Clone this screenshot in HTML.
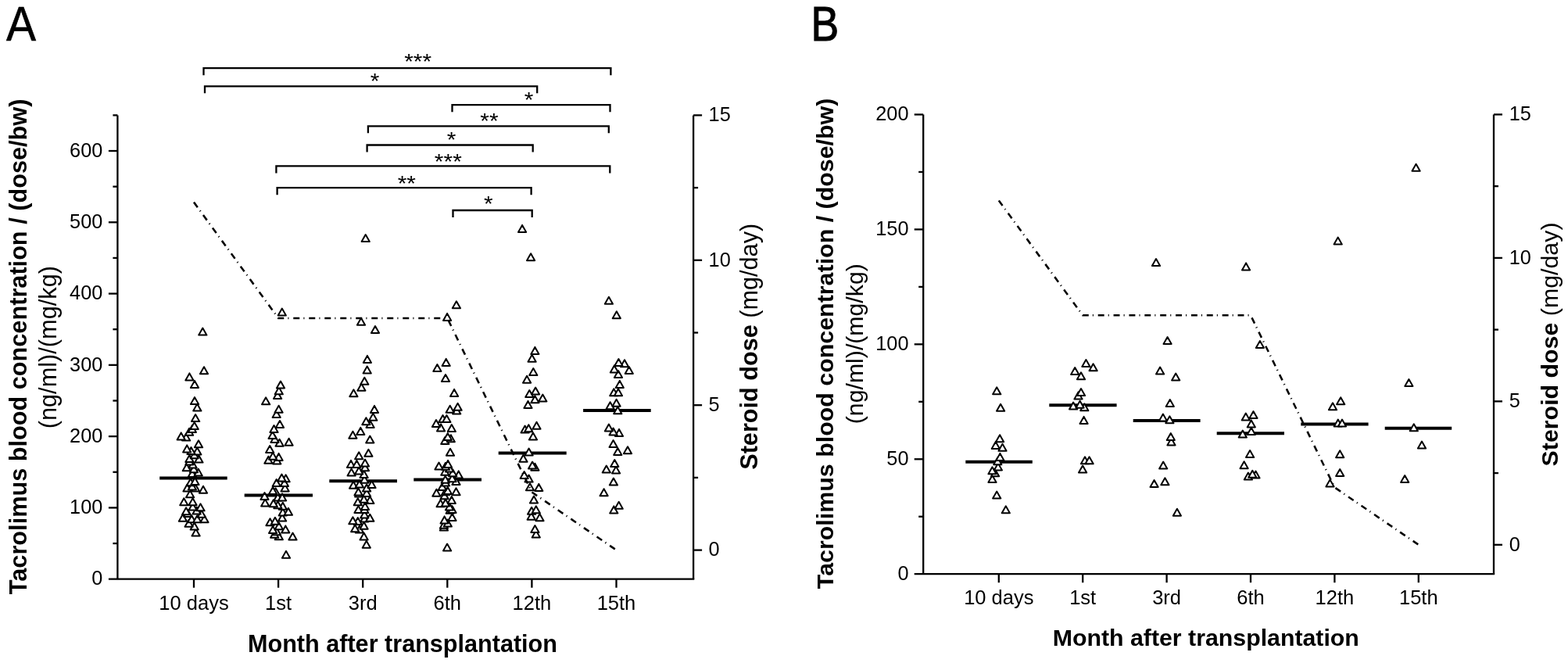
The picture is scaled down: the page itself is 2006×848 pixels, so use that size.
<!DOCTYPE html>
<html><head><meta charset="utf-8"><title>Tacrolimus figure</title>
<style>html,body{margin:0;padding:0;background:#fff;}svg{display:block;}</style>
</head><body>
<svg width="2006" height="848" viewBox="0 0 2006 848" font-family="Liberation Sans, Arial, sans-serif">
<rect width="2006" height="848" fill="#fff"/>
<g stroke="#000" stroke-linecap="butt">
<line x1="150.4" y1="147.4" x2="150.4" y2="740.7" stroke-width="2.3"/>
<line x1="887.1" y1="147.4" x2="887.1" y2="740.7" stroke-width="2.3"/>
<line x1="138.9" y1="740.7" x2="888.25" y2="740.7" stroke-width="2.3"/>
<line x1="138.9" y1="649.42" x2="150.4" y2="649.42" stroke-width="2.3"/>
<line x1="138.9" y1="558.14" x2="150.4" y2="558.14" stroke-width="2.3"/>
<line x1="138.9" y1="466.86" x2="150.4" y2="466.86" stroke-width="2.3"/>
<line x1="138.9" y1="375.58" x2="150.4" y2="375.58" stroke-width="2.3"/>
<line x1="138.9" y1="284.3" x2="150.4" y2="284.3" stroke-width="2.3"/>
<line x1="138.9" y1="193.02" x2="150.4" y2="193.02" stroke-width="2.3"/>
<line x1="144.4" y1="695.06" x2="150.4" y2="695.06" stroke-width="2.3"/>
<line x1="144.4" y1="603.78" x2="150.4" y2="603.78" stroke-width="2.3"/>
<line x1="144.4" y1="512.5" x2="150.4" y2="512.5" stroke-width="2.3"/>
<line x1="144.4" y1="421.22" x2="150.4" y2="421.22" stroke-width="2.3"/>
<line x1="144.4" y1="329.94" x2="150.4" y2="329.94" stroke-width="2.3"/>
<line x1="144.4" y1="238.66" x2="150.4" y2="238.66" stroke-width="2.3"/>
<line x1="144.4" y1="147.38" x2="150.4" y2="147.38" stroke-width="2.3"/>
<line x1="887.1" y1="703.6" x2="898.1" y2="703.6" stroke-width="2.3"/>
<line x1="887.1" y1="518.2" x2="898.1" y2="518.2" stroke-width="2.3"/>
<line x1="887.1" y1="332.8" x2="898.1" y2="332.8" stroke-width="2.3"/>
<line x1="887.1" y1="147.4" x2="898.1" y2="147.4" stroke-width="2.3"/>
<line x1="887.1" y1="610.9" x2="893.1" y2="610.9" stroke-width="2.3"/>
<line x1="887.1" y1="425.5" x2="893.1" y2="425.5" stroke-width="2.3"/>
<line x1="887.1" y1="240.1" x2="893.1" y2="240.1" stroke-width="2.3"/>
<line x1="248" y1="740.7" x2="248" y2="751.7" stroke-width="2.3"/>
<line x1="356.1" y1="740.7" x2="356.1" y2="751.7" stroke-width="2.3"/>
<line x1="464.2" y1="740.7" x2="464.2" y2="751.7" stroke-width="2.3"/>
<line x1="572.3" y1="740.7" x2="572.3" y2="751.7" stroke-width="2.3"/>
<line x1="680.4" y1="740.7" x2="680.4" y2="751.7" stroke-width="2.3"/>
<line x1="788.5" y1="740.7" x2="788.5" y2="751.7" stroke-width="2.3"/>
</g>
<text x="131.3" y="748.4" font-size="25.3" text-anchor="end">0</text>
<text x="131.3" y="657.12" font-size="25.3" text-anchor="end">100</text>
<text x="131.3" y="565.84" font-size="25.3" text-anchor="end">200</text>
<text x="131.3" y="474.56" font-size="25.3" text-anchor="end">300</text>
<text x="131.3" y="383.28" font-size="25.3" text-anchor="end">400</text>
<text x="131.3" y="292" font-size="25.3" text-anchor="end">500</text>
<text x="131.3" y="200.72" font-size="25.3" text-anchor="end">600</text>
<text x="906.6" y="711.3" font-size="25.3" text-anchor="start">0</text>
<text x="906.6" y="525.9" font-size="25.3" text-anchor="start">5</text>
<text x="906.6" y="340.5" font-size="25.3" text-anchor="start">10</text>
<text x="906.6" y="155.1" font-size="25.3" text-anchor="start">15</text>
<text x="248" y="779.8" font-size="25.5" text-anchor="middle">10 days</text>
<text x="356.1" y="779.8" font-size="25.5" text-anchor="middle">1st</text>
<text x="464.2" y="779.8" font-size="25.5" text-anchor="middle">3rd</text>
<text x="572.3" y="779.8" font-size="25.5" text-anchor="middle">6th</text>
<text x="680.4" y="779.8" font-size="25.5" text-anchor="middle">12th</text>
<text x="788.5" y="779.8" font-size="25.5" text-anchor="middle">15th</text>
<g stroke="#000" stroke-linecap="butt">
<line x1="1181.2" y1="146.5" x2="1181.2" y2="734.2" stroke-width="2.3"/>
<line x1="1911" y1="146.5" x2="1911" y2="734.2" stroke-width="2.3"/>
<line x1="1169.7" y1="734.2" x2="1912.15" y2="734.2" stroke-width="2.3"/>
<line x1="1169.7" y1="587.28" x2="1181.2" y2="587.28" stroke-width="2.3"/>
<line x1="1169.7" y1="440.35" x2="1181.2" y2="440.35" stroke-width="2.3"/>
<line x1="1169.7" y1="293.43" x2="1181.2" y2="293.43" stroke-width="2.3"/>
<line x1="1169.7" y1="146.5" x2="1181.2" y2="146.5" stroke-width="2.3"/>
<line x1="1175.2" y1="660.74" x2="1181.2" y2="660.74" stroke-width="2.3"/>
<line x1="1175.2" y1="513.81" x2="1181.2" y2="513.81" stroke-width="2.3"/>
<line x1="1175.2" y1="366.89" x2="1181.2" y2="366.89" stroke-width="2.3"/>
<line x1="1175.2" y1="219.96" x2="1181.2" y2="219.96" stroke-width="2.3"/>
<line x1="1911" y1="696.8" x2="1922" y2="696.8" stroke-width="2.3"/>
<line x1="1911" y1="513.35" x2="1922" y2="513.35" stroke-width="2.3"/>
<line x1="1911" y1="329.9" x2="1922" y2="329.9" stroke-width="2.3"/>
<line x1="1911" y1="146.45" x2="1922" y2="146.45" stroke-width="2.3"/>
<line x1="1911" y1="605.07" x2="1917" y2="605.07" stroke-width="2.3"/>
<line x1="1911" y1="421.62" x2="1917" y2="421.62" stroke-width="2.3"/>
<line x1="1911" y1="238.17" x2="1917" y2="238.17" stroke-width="2.3"/>
<line x1="1277.8" y1="734.2" x2="1277.8" y2="745.2" stroke-width="2.3"/>
<line x1="1385.2" y1="734.2" x2="1385.2" y2="745.2" stroke-width="2.3"/>
<line x1="1492.6" y1="734.2" x2="1492.6" y2="745.2" stroke-width="2.3"/>
<line x1="1600" y1="734.2" x2="1600" y2="745.2" stroke-width="2.3"/>
<line x1="1707.4" y1="734.2" x2="1707.4" y2="745.2" stroke-width="2.3"/>
<line x1="1814.8" y1="734.2" x2="1814.8" y2="745.2" stroke-width="2.3"/>
</g>
<text x="1162.5" y="741.9" font-size="25.3" text-anchor="end">0</text>
<text x="1162.5" y="594.98" font-size="25.3" text-anchor="end">50</text>
<text x="1162.5" y="448.05" font-size="25.3" text-anchor="end">100</text>
<text x="1162.5" y="301.13" font-size="25.3" text-anchor="end">150</text>
<text x="1162.5" y="154.2" font-size="25.3" text-anchor="end">200</text>
<text x="1930.8" y="704.5" font-size="25.3" text-anchor="start">0</text>
<text x="1930.8" y="521.05" font-size="25.3" text-anchor="start">5</text>
<text x="1930.8" y="337.6" font-size="25.3" text-anchor="start">10</text>
<text x="1930.8" y="154.15" font-size="25.3" text-anchor="start">15</text>
<text x="1277.8" y="772.8" font-size="25.5" text-anchor="middle">10 days</text>
<text x="1385.2" y="772.8" font-size="25.5" text-anchor="middle">1st</text>
<text x="1492.6" y="772.8" font-size="25.5" text-anchor="middle">3rd</text>
<text x="1600" y="772.8" font-size="25.5" text-anchor="middle">6th</text>
<text x="1707.4" y="772.8" font-size="25.5" text-anchor="middle">12th</text>
<text x="1814.8" y="772.8" font-size="25.5" text-anchor="middle">15th</text>
<text transform="translate(8.1,52.1) scale(0.915,1)" font-size="62.4" stroke="#000" stroke-width="0.6">A</text>
<text transform="translate(1037.6,51.9) scale(0.86,1)" font-size="62.2" stroke="#000" stroke-width="1.1">B</text>
<text x="515" y="833.7" font-size="30.6" text-anchor="middle" font-weight="bold">Month after transplantation</text>
<text x="1542.8" y="826" font-size="30.3" text-anchor="middle" font-weight="bold">Month after transplantation</text>
<text transform="translate(33.7,443.4) rotate(-90)" font-size="30.6" text-anchor="middle" font-weight="bold" textLength="633.5" lengthAdjust="spacingAndGlyphs">Tacrolimus blood concentration / (dose/bw)</text>
<text transform="translate(72.1,444.15) rotate(-90)" font-size="30.8" text-anchor="middle" textLength="208.3" lengthAdjust="spacingAndGlyphs">(ng/ml)/(mg/kg)</text>
<text transform="translate(1065.5,439.4) rotate(-90)" font-size="30.35" text-anchor="middle" font-weight="bold" textLength="627.5" lengthAdjust="spacingAndGlyphs">Tacrolimus blood concentration / (dose/bw)</text>
<text transform="translate(1104.3,439.7) rotate(-90)" font-size="30.3" text-anchor="middle" textLength="205" lengthAdjust="spacingAndGlyphs">(ng/ml)/(mg/kg)</text>
<text transform="translate(968.9,443.3) rotate(-90)" font-size="30.6" text-anchor="middle" textLength="315" lengthAdjust="spacingAndGlyphs"><tspan font-weight="bold">Steroid dose</tspan> (mg/day)</text>
<text transform="translate(1992.5,440.45) rotate(-90)" font-size="30.3" text-anchor="middle" textLength="312" lengthAdjust="spacingAndGlyphs"><tspan font-weight="bold">Steroid dose</tspan> (mg/day)</text>
<g fill="none" stroke="#000" stroke-width="2.3" stroke-linejoin="miter">
<path d="M260.5 96.2V87.2H781.4V96.2"/>
<path d="M262 119.3V110.3H687.2V119.3"/>
<path d="M578.5 143.2V134.2H780.5V143.2"/>
<path d="M470.9 170.3V161.3H778.8V170.3"/>
<path d="M469.6 194.5V185.5H681.7V194.5"/>
<path d="M353.4 221.4V212.4H780.3V221.4"/>
<path d="M354.6 249.2V240.2H679.6V249.2"/>
<path d="M579.5 278V269H680.7V278"/>
</g>
<text transform="translate(534.7,88.27) scale(1,0.9)" font-size="30" text-anchor="middle">***</text>
<text transform="translate(479.6,112.77) scale(1,0.9)" font-size="30" text-anchor="middle">*</text>
<text transform="translate(676.7,136.92) scale(1,0.9)" font-size="30" text-anchor="middle">*</text>
<text transform="translate(626,164.07) scale(1,0.9)" font-size="30" text-anchor="middle">**</text>
<text transform="translate(577.7,188.17) scale(1,0.9)" font-size="30" text-anchor="middle">*</text>
<text transform="translate(573.3,216.07) scale(1,0.9)" font-size="30" text-anchor="middle">***</text>
<text transform="translate(520.3,243.97) scale(1,0.9)" font-size="30" text-anchor="middle">**</text>
<text transform="translate(624.85,269.77) scale(1,0.9)" font-size="30" text-anchor="middle">*</text>
<g stroke="#000" stroke-width="4">
<line x1="204.2" y1="611.5" x2="290.7" y2="611.5" stroke-width="4"/>
<line x1="312.7" y1="633.5" x2="400" y2="633.5" stroke-width="4"/>
<line x1="421.3" y1="615.2" x2="508" y2="615.2" stroke-width="4"/>
<line x1="529.3" y1="613.5" x2="616" y2="613.5" stroke-width="4"/>
<line x1="637.7" y1="579.5" x2="724.7" y2="579.5" stroke-width="4"/>
<line x1="746.1" y1="525.1" x2="832.7" y2="525.1" stroke-width="4"/>
<line x1="1235.3" y1="590.7" x2="1320.8" y2="590.7" stroke-width="4"/>
<line x1="1342.3" y1="518.2" x2="1428.6" y2="518.2" stroke-width="4"/>
<line x1="1449.7" y1="538.1" x2="1535.6" y2="538.1" stroke-width="4"/>
<line x1="1556.7" y1="554.2" x2="1643" y2="554.2" stroke-width="4"/>
<line x1="1664.3" y1="542.5" x2="1750.6" y2="542.5" stroke-width="4"/>
<line x1="1771.7" y1="547.8" x2="1857.2" y2="547.8" stroke-width="4"/>
</g>
<g fill="#fff" stroke="#000" stroke-width="2" stroke-linejoin="round">
<path d="M366 704.8l5.1 9h-10.2z"/>
<path d="M572.1 695.6l5.1 9h-10.2z"/>
<path d="M468.8 691.7l5.1 9h-10.2z"/>
<path d="M374.5 681.6l5.1 9h-10.2z"/>
<path d="M465.6 681.5l5.1 9h-10.2z"/>
<path d="M356.8 681.3l5.1 9h-10.2z"/>
<path d="M351.2 678.8l5.1 9h-10.2z"/>
<path d="M685.8 678.5l5.1 9h-10.2z"/>
<path d="M250.6 676.4l5.1 9h-10.2z"/>
<path d="M354 675.3l5.1 9h-10.2z"/>
<path d="M349.1 673.1l5.1 9h-10.2z"/>
<path d="M459.9 672.6l5.1 9h-10.2z"/>
<path d="M365.3 672.4l5.1 9h-10.2z"/>
<path d="M684.4 672.1l5.1 9h-10.2z"/>
<path d="M454.2 671.2l5.1 9h-10.2z"/>
<path d="M567.9 669.6l5.1 9h-10.2z"/>
<path d="M248.7 668.4l5.1 9h-10.2z"/>
<path d="M356.8 668.2l5.1 9h-10.2z"/>
<path d="M465.6 667.7l5.1 9h-10.2z"/>
<path d="M567.9 666.8l5.1 9h-10.2z"/>
<path d="M241.6 664.8l5.1 9h-10.2z"/>
<path d="M572.8 664.6l5.1 9h-10.2z"/>
<path d="M345.5 663.2l5.1 9h-10.2z"/>
<path d="M457.8 662l5.1 9h-10.2z"/>
<path d="M351.9 661.8l5.1 9h-10.2z"/>
<path d="M451.4 661.3l5.1 9h-10.2z"/>
<path d="M568.6 660.4l5.1 9h-10.2z"/>
<path d="M245.2 659.2l5.1 9h-10.2z"/>
<path d="M252.3 659.2l5.1 9h-10.2z"/>
<path d="M261.5 659.2l5.1 9h-10.2z"/>
<path d="M466.3 658.5l5.1 9h-10.2z"/>
<path d="M233.9 657.8l5.1 9h-10.2z"/>
<path d="M473.3 657.8l5.1 9h-10.2z"/>
<path d="M361.1 657.6l5.1 9h-10.2z"/>
<path d="M690.5 657.2l5.1 9h-10.2z"/>
<path d="M578.5 656.9l5.1 9h-10.2z"/>
<path d="M679.7 655.8l5.1 9h-10.2z"/>
<path d="M466.3 653.5l5.1 9h-10.2z"/>
<path d="M257.9 652.8l5.1 9h-10.2z"/>
<path d="M240.2 652.1l5.1 9h-10.2z"/>
<path d="M1505.9 650.7l5.1 9h-10.2z"/>
<path d="M361.8 650.5l5.1 9h-10.2z"/>
<path d="M368.9 649.8l5.1 9h-10.2z"/>
<path d="M238.1 649.3l5.1 9h-10.2z"/>
<path d="M680.1 648.8l5.1 9h-10.2z"/>
<path d="M251.6 648.6l5.1 9h-10.2z"/>
<path d="M575.7 647.7l5.1 9h-10.2z"/>
<path d="M785.3 647.4l5.1 9h-10.2z"/>
<path d="M685.8 647.3l5.1 9h-10.2z"/>
<path d="M1286.8 647.3l5.1 9h-10.2z"/>
<path d="M458.5 647.1l5.1 9h-10.2z"/>
<path d="M466.3 647.1l5.1 9h-10.2z"/>
<path d="M578.5 647l5.1 9h-10.2z"/>
<path d="M256.5 644.3l5.1 9h-10.2z"/>
<path d="M246.6 643.6l5.1 9h-10.2z"/>
<path d="M575 643.4l5.1 9h-10.2z"/>
<path d="M467 642.9l5.1 9h-10.2z"/>
<path d="M361.8 642.7l5.1 9h-10.2z"/>
<path d="M791.7 641.8l5.1 9h-10.2z"/>
<path d="M355.4 641.3l5.1 9h-10.2z"/>
<path d="M349.8 639.2l5.1 9h-10.2z"/>
<path d="M563.6 639.2l5.1 9h-10.2z"/>
<path d="M339.2 638.5l5.1 9h-10.2z"/>
<path d="M570 638.5l5.1 9h-10.2z"/>
<path d="M235.3 637.2l5.1 9h-10.2z"/>
<path d="M246.6 637.2l5.1 9h-10.2z"/>
<path d="M457.8 637.2l5.1 9h-10.2z"/>
<path d="M473.3 635.1l5.1 9h-10.2z"/>
<path d="M577.8 634.9l5.1 9h-10.2z"/>
<path d="M683 634.5l5.1 9h-10.2z"/>
<path d="M465.6 633.7l5.1 9h-10.2z"/>
<path d="M355.4 631.4l5.1 9h-10.2z"/>
<path d="M361.1 631.4l5.1 9h-10.2z"/>
<path d="M338.5 630l5.1 9h-10.2z"/>
<path d="M568.6 629.3l5.1 9h-10.2z"/>
<path d="M1275.2 628.5l5.1 9h-10.2z"/>
<path d="M243.1 627.3l5.1 9h-10.2z"/>
<path d="M459.2 626.6l5.1 9h-10.2z"/>
<path d="M469.1 625.9l5.1 9h-10.2z"/>
<path d="M558.4 625.7l5.1 9h-10.2z"/>
<path d="M772.6 625.2l5.1 9h-10.2z"/>
<path d="M458.5 624.5l5.1 9h-10.2z"/>
<path d="M352.6 624.3l5.1 9h-10.2z"/>
<path d="M570 624.3l5.1 9h-10.2z"/>
<path d="M583.5 624.3l5.1 9h-10.2z"/>
<path d="M349.1 622.9l5.1 9h-10.2z"/>
<path d="M572.8 622.9l5.1 9h-10.2z"/>
<path d="M260 621.7l5.1 9h-10.2z"/>
<path d="M469.1 619.6l5.1 9h-10.2z"/>
<path d="M239.5 619.5l5.1 9h-10.2z"/>
<path d="M250.1 619.5l5.1 9h-10.2z"/>
<path d="M364.6 619.4l5.1 9h-10.2z"/>
<path d="M689.3 618.9l5.1 9h-10.2z"/>
<path d="M678 618.2l5.1 9h-10.2z"/>
<path d="M565.8 618l5.1 9h-10.2z"/>
<path d="M245.9 617.4l5.1 9h-10.2z"/>
<path d="M452.1 615.8l5.1 9h-10.2z"/>
<path d="M475.5 615.1l5.1 9h-10.2z"/>
<path d="M459.9 614.4l5.1 9h-10.2z"/>
<path d="M1476.6 614l5.1 9h-10.2z"/>
<path d="M1701.5 613.5l5.1 9h-10.2z"/>
<path d="M353.7 613l5.1 9h-10.2z"/>
<path d="M363.9 613l5.1 9h-10.2z"/>
<path d="M570 612.6l5.1 9h-10.2z"/>
<path d="M243.8 612.3l5.1 9h-10.2z"/>
<path d="M784.9 611.6l5.1 9h-10.2z"/>
<path d="M1490.4 611.3l5.1 9h-10.2z"/>
<path d="M249.4 611.1l5.1 9h-10.2z"/>
<path d="M583.5 610.9l5.1 9h-10.2z"/>
<path d="M569.7 608.8l5.1 9h-10.2z"/>
<path d="M466.3 608.7l5.1 9h-10.2z"/>
<path d="M1269.5 608l5.1 9h-10.2z"/>
<path d="M1797.2 608l5.1 9h-10.2z"/>
<path d="M676.6 607.6l5.1 9h-10.2z"/>
<path d="M365.6 607.3l5.1 9h-10.2z"/>
<path d="M578.5 607.3l5.1 9h-10.2z"/>
<path d="M360.4 606.6l5.1 9h-10.2z"/>
<path d="M1596.9 604.6l5.1 9h-10.2z"/>
<path d="M670.7 603l5.1 9h-10.2z"/>
<path d="M1606.5 602.5l5.1 9h-10.2z"/>
<path d="M586.7 602.4l5.1 9h-10.2z"/>
<path d="M465.6 602.1l5.1 9h-10.2z"/>
<path d="M1602.3 601.8l5.1 9h-10.2z"/>
<path d="M245.9 601l5.1 9h-10.2z"/>
<path d="M579.2 600.3l5.1 9h-10.2z"/>
<path d="M1273.1 600.2l5.1 9h-10.2z"/>
<path d="M1714.2 600l5.1 9h-10.2z"/>
<path d="M449.6 599.6l5.1 9h-10.2z"/>
<path d="M253.7 599.5l5.1 9h-10.2z"/>
<path d="M569.3 598.8l5.1 9h-10.2z"/>
<path d="M459.2 597.4l5.1 9h-10.2z"/>
<path d="M1269.5 597.3l5.1 9h-10.2z"/>
<path d="M788.1 596.5l5.1 9h-10.2z"/>
<path d="M1385.1 595.6l5.1 9h-10.2z"/>
<path d="M775.8 595.5l5.1 9h-10.2z"/>
<path d="M248 595.3l5.1 9h-10.2z"/>
<path d="M575 594.6l5.1 9h-10.2z"/>
<path d="M238.8 593.2l5.1 9h-10.2z"/>
<path d="M467 593.2l5.1 9h-10.2z"/>
<path d="M684.4 592.7l5.1 9h-10.2z"/>
<path d="M1276.9 592.4l5.1 9h-10.2z"/>
<path d="M570 591.8l5.1 9h-10.2z"/>
<path d="M561.5 591.5l5.1 9h-10.2z"/>
<path d="M681.1 590.6l5.1 9h-10.2z"/>
<path d="M1488.2 590.5l5.1 9h-10.2z"/>
<path d="M1591.6 590.2l5.1 9h-10.2z"/>
<path d="M246.6 589.4l5.1 9h-10.2z"/>
<path d="M449 588.9l5.1 9h-10.2z"/>
<path d="M456.4 588.9l5.1 9h-10.2z"/>
<path d="M573.1 588.9l5.1 9h-10.2z"/>
<path d="M786.3 588l5.1 9h-10.2z"/>
<path d="M467 587.5l5.1 9h-10.2z"/>
<path d="M242.4 585.5l5.1 9h-10.2z"/>
<path d="M1276.3 585.3l5.1 9h-10.2z"/>
<path d="M354.3 584.5l5.1 9h-10.2z"/>
<path d="M1388 584.3l5.1 9h-10.2z"/>
<path d="M1393.6 584.3l5.1 9h-10.2z"/>
<path d="M343.4 583.7l5.1 9h-10.2z"/>
<path d="M254.4 582.6l5.1 9h-10.2z"/>
<path d="M242.4 581.9l5.1 9h-10.2z"/>
<path d="M669.5 581.8l5.1 9h-10.2z"/>
<path d="M356.6 579.9l5.1 9h-10.2z"/>
<path d="M1279.4 579.9l5.1 9h-10.2z"/>
<path d="M349.1 578.8l5.1 9h-10.2z"/>
<path d="M459.2 578.3l5.1 9h-10.2z"/>
<path d="M248.7 577.3l5.1 9h-10.2z"/>
<path d="M1714.2 576.2l5.1 9h-10.2z"/>
<path d="M1599.1 576.1l5.1 9h-10.2z"/>
<path d="M471.4 574.8l5.1 9h-10.2z"/>
<path d="M576 573.8l5.1 9h-10.2z"/>
<path d="M676.6 573.6l5.1 9h-10.2z"/>
<path d="M790.3 573l5.1 9h-10.2z"/>
<path d="M252.3 572.4l5.1 9h-10.2z"/>
<path d="M244.5 572l5.1 9h-10.2z"/>
<path d="M803 571.2l5.1 9h-10.2z"/>
<path d="M345.2 570l5.1 9h-10.2z"/>
<path d="M239.2 569.4l5.1 9h-10.2z"/>
<path d="M1282.5 567.8l5.1 9h-10.2z"/>
<path d="M1273.8 564.9l5.1 9h-10.2z"/>
<path d="M1819 564.6l5.1 9h-10.2z"/>
<path d="M254 563.3l5.1 9h-10.2z"/>
<path d="M784.6 563.1l5.1 9h-10.2z"/>
<path d="M357.6 561.8l5.1 9h-10.2z"/>
<path d="M369.6 560.7l5.1 9h-10.2z"/>
<path d="M1498.5 560.5l5.1 9h-10.2z"/>
<path d="M569.3 559l5.1 9h-10.2z"/>
<path d="M473.3 557.5l5.1 9h-10.2z"/>
<path d="M351.5 556.9l5.1 9h-10.2z"/>
<path d="M576.8 556.2l5.1 9h-10.2z"/>
<path d="M1279.1 556.2l5.1 9h-10.2z"/>
<path d="M238.1 554.6l5.1 9h-10.2z"/>
<path d="M572.8 554l5.1 9h-10.2z"/>
<path d="M1497.8 554l5.1 9h-10.2z"/>
<path d="M682 553.5l5.1 9h-10.2z"/>
<path d="M231.7 553.4l5.1 9h-10.2z"/>
<path d="M348.6 551.9l5.1 9h-10.2z"/>
<path d="M451.4 551.7l5.1 9h-10.2z"/>
<path d="M1589.8 550.6l5.1 9h-10.2z"/>
<path d="M792 548.9l5.1 9h-10.2z"/>
<path d="M242.1 547.8l5.1 9h-10.2z"/>
<path d="M784.6 547.5l5.1 9h-10.2z"/>
<path d="M461.3 546.9l5.1 9h-10.2z"/>
<path d="M1600.8 546.9l5.1 9h-10.2z"/>
<path d="M671.6 544.6l5.1 9h-10.2z"/>
<path d="M350.5 544.1l5.1 9h-10.2z"/>
<path d="M245.9 543.9l5.1 9h-10.2z"/>
<path d="M676.3 543.2l5.1 9h-10.2z"/>
<path d="M577.8 543.1l5.1 9h-10.2z"/>
<path d="M778.9 542.5l5.1 9h-10.2z"/>
<path d="M564.1 542.4l5.1 9h-10.2z"/>
<path d="M1808.8 542.3l5.1 9h-10.2z"/>
<path d="M248.7 540.1l5.1 9h-10.2z"/>
<path d="M686.5 539.7l5.1 9h-10.2z"/>
<path d="M358 538l5.1 9h-10.2z"/>
<path d="M473.6 538l5.1 9h-10.2z"/>
<path d="M1600.8 537.4l5.1 9h-10.2z"/>
<path d="M558 537.1l5.1 9h-10.2z"/>
<path d="M1711.8 536.5l5.1 9h-10.2z"/>
<path d="M1717 536.5l5.1 9h-10.2z"/>
<path d="M468.4 534.2l5.1 9h-10.2z"/>
<path d="M1386.6 532.9l5.1 9h-10.2z"/>
<path d="M1496.4 532.3l5.1 9h-10.2z"/>
<path d="M566.5 531.1l5.1 9h-10.2z"/>
<path d="M571.4 531.1l5.1 9h-10.2z"/>
<path d="M250.1 530.1l5.1 9h-10.2z"/>
<path d="M1487.9 529.5l5.1 9h-10.2z"/>
<path d="M477.3 528.8l5.1 9h-10.2z"/>
<path d="M1593.8 528.6l5.1 9h-10.2z"/>
<path d="M1603.5 526l5.1 9h-10.2z"/>
<path d="M353.7 525l5.1 9h-10.2z"/>
<path d="M584.2 520.5l5.1 9h-10.2z"/>
<path d="M790.3 520.3l5.1 9h-10.2z"/>
<path d="M479 518.9l5.1 9h-10.2z"/>
<path d="M356.6 518.7l5.1 9h-10.2z"/>
<path d="M575.7 518.7l5.1 9h-10.2z"/>
<path d="M1280.1 516.8l5.1 9h-10.2z"/>
<path d="M252.3 516.6l5.1 9h-10.2z"/>
<path d="M1387.3 516.3l5.1 9h-10.2z"/>
<path d="M585.6 515.8l5.1 9h-10.2z"/>
<path d="M1705 515.3l5.1 9h-10.2z"/>
<path d="M1373.1 514.6l5.1 9h-10.2z"/>
<path d="M780.6 514.2l5.1 9h-10.2z"/>
<path d="M675.5 512.9l5.1 9h-10.2z"/>
<path d="M1381.6 512.7l5.1 9h-10.2z"/>
<path d="M1496.8 511l5.1 9h-10.2z"/>
<path d="M788.6 510.7l5.1 9h-10.2z"/>
<path d="M340.1 508.3l5.1 9h-10.2z"/>
<path d="M1715.2 508.2l5.1 9h-10.2z"/>
<path d="M249 508.1l5.1 9h-10.2z"/>
<path d="M684.4 506.2l5.1 9h-10.2z"/>
<path d="M694.3 504.5l5.1 9h-10.2z"/>
<path d="M1379.5 501.4l5.1 9h-10.2z"/>
<path d="M355.1 501l5.1 9h-10.2z"/>
<path d="M677.3 499.1l5.1 9h-10.2z"/>
<path d="M452.4 498.3l5.1 9h-10.2z"/>
<path d="M581.1 497.9l5.1 9h-10.2z"/>
<path d="M785.3 497.2l5.1 9h-10.2z"/>
<path d="M791 497.2l5.1 9h-10.2z"/>
<path d="M1383 497.1l5.1 9h-10.2z"/>
<path d="M685.1 495.5l5.1 9h-10.2z"/>
<path d="M356.8 495.3l5.1 9h-10.2z"/>
<path d="M1275.2 495.3l5.1 9h-10.2z"/>
<path d="M462.4 490.7l5.1 9h-10.2z"/>
<path d="M359 487.5l5.1 9h-10.2z"/>
<path d="M249 486.9l5.1 9h-10.2z"/>
<path d="M792.8 486.9l5.1 9h-10.2z"/>
<path d="M1802.4 485l5.1 9h-10.2z"/>
<path d="M466.3 482.8l5.1 9h-10.2z"/>
<path d="M674.1 480.7l5.1 9h-10.2z"/>
<path d="M570 479l5.1 9h-10.2z"/>
<path d="M1504.2 477.5l5.1 9h-10.2z"/>
<path d="M242.4 477.4l5.1 9h-10.2z"/>
<path d="M1383 476.3l5.1 9h-10.2z"/>
<path d="M791 474l5.1 9h-10.2z"/>
<path d="M682.3 471.1l5.1 9h-10.2z"/>
<path d="M1375.2 470l5.1 9h-10.2z"/>
<path d="M1484.1 469.6l5.1 9h-10.2z"/>
<path d="M261 469.2l5.1 9h-10.2z"/>
<path d="M804.8 469l5.1 9h-10.2z"/>
<path d="M469.7 468.6l5.1 9h-10.2z"/>
<path d="M785.9 467.4l5.1 9h-10.2z"/>
<path d="M559.4 466l5.1 9h-10.2z"/>
<path d="M1398.6 465.3l5.1 9h-10.2z"/>
<path d="M799 460.2l5.1 9h-10.2z"/>
<path d="M1389.4 460.1l5.1 9h-10.2z"/>
<path d="M791.4 459l5.1 9h-10.2z"/>
<path d="M570.7 458.9l5.1 9h-10.2z"/>
<path d="M469.9 454.9l5.1 9h-10.2z"/>
<path d="M680.6 453.8l5.1 9h-10.2z"/>
<path d="M684.4 443.9l5.1 9h-10.2z"/>
<path d="M1611.9 436l5.1 9h-10.2z"/>
<path d="M1493.6 431l5.1 9h-10.2z"/>
<path d="M259.3 419.6l5.1 9h-10.2z"/>
<path d="M480 417l5.1 9h-10.2z"/>
<path d="M462 406.8l5.1 9h-10.2z"/>
<path d="M572.1 400.9l5.1 9h-10.2z"/>
<path d="M788.8 398.2l5.1 9h-10.2z"/>
<path d="M360.8 394.6l5.1 9h-10.2z"/>
<path d="M583.9 385.3l5.1 9h-10.2z"/>
<path d="M778.9 379.8l5.1 9h-10.2z"/>
<path d="M1594.1 336.4l5.1 9h-10.2z"/>
<path d="M1479 331.1l5.1 9h-10.2z"/>
<path d="M679.1 324.2l5.1 9h-10.2z"/>
<path d="M1711.7 303.6l5.1 9h-10.2z"/>
<path d="M467.7 300.1l5.1 9h-10.2z"/>
<path d="M668.1 287.9l5.1 9h-10.2z"/>
<path d="M1811.6 209.8l5.1 9h-10.2z"/>
</g>
<g transform="scale(1,1.023)"><path d="M248 252.83 L356.1 397.81 L572.3 397.81 L680.4 615.29 L788.5 687.78" fill="none" stroke="#000" stroke-width="2.55" stroke-linejoin="miter" stroke-dasharray="8 5.1 1.1 5.8"/></g>
<g transform="scale(1,1.023)"><path d="M1277.8 250.75 L1385.2 394.21 L1600 394.21 L1707.4 609.4 L1814.8 681.13" fill="none" stroke="#000" stroke-width="2.55" stroke-linejoin="miter" stroke-dasharray="7.95 5.07 1.09 5.76"/></g>
</svg>
</body></html>
